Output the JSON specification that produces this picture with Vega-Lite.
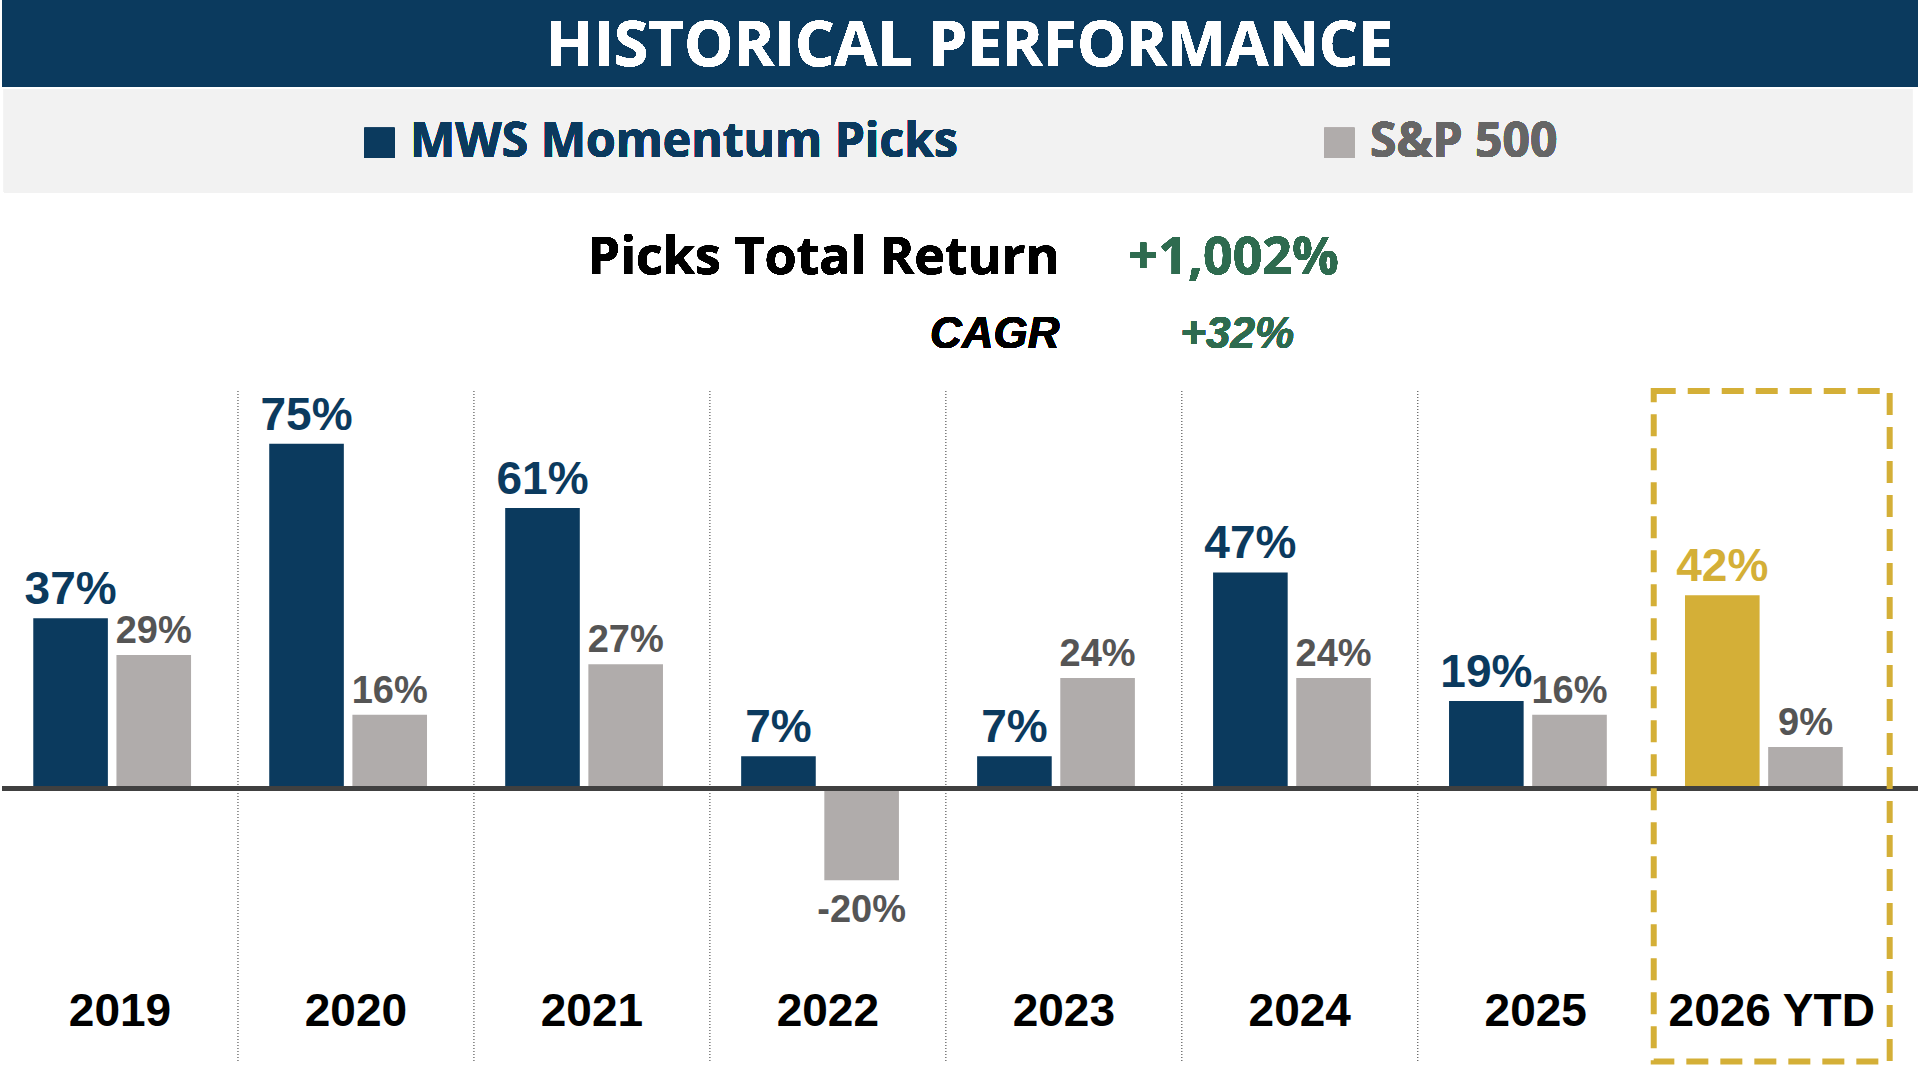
{
  "$schema": "https://vega.github.io/schema/vega-lite/v6.json",
  "width": 1920,
  "height": 1080,
  "autosize": {"type": "fit", "contains": "padding"},
  "padding": 0,
  "background": "white",
  "config": {"view": {"stroke": null}},
  "data": {"values": [
    {"year": "2019", "series": "MWS Momentum Picks", "value": 37, "label": "37%"},
    {"year": "2019", "series": "S&P 500", "value": 29, "label": "29%"},
    {"year": "2020", "series": "MWS Momentum Picks", "value": 75, "label": "75%"},
    {"year": "2020", "series": "S&P 500", "value": 16, "label": "16%"},
    {"year": "2021", "series": "MWS Momentum Picks", "value": 61, "label": "61%"},
    {"year": "2021", "series": "S&P 500", "value": 27, "label": "27%"},
    {"year": "2022", "series": "MWS Momentum Picks", "value": 7, "label": "7%"},
    {"year": "2022", "series": "S&P 500", "value": -20, "label": "-20%"},
    {"year": "2023", "series": "MWS Momentum Picks", "value": 7, "label": "7%"},
    {"year": "2023", "series": "S&P 500", "value": 24, "label": "24%"},
    {"year": "2024", "series": "MWS Momentum Picks", "value": 47, "label": "47%"},
    {"year": "2024", "series": "S&P 500", "value": 24, "label": "24%"},
    {"year": "2025", "series": "MWS Momentum Picks", "value": 19, "label": "19%"},
    {"year": "2025", "series": "S&P 500", "value": 16, "label": "16%"},
    {"year": "2026 YTD", "series": "MWS Momentum Picks", "value": 42, "label": "42%"},
    {"year": "2026 YTD", "series": "S&P 500", "value": 9, "label": "9%"}
  ]},
  "resolve": {"scale": {"x": "independent"}},
  "encoding": {
    "y": {"type": "quantitative", "scale": {"domain": [-63.5, 171.6], "nice": false, "zero": false}, "axis": null}
  },
  "layer": [
    {
      "mark": {"type": "rect", "fill": "#0b3a5e"},
      "encoding": {
        "x": {"datum": 0, "type": "quantitative", "scale": {"domain": [0, 1]}, "axis": null},
        "x2": {"datum": 1},
        "y": {"datum": 171.6, "type": "quantitative"},
        "y2": {"datum": 152.7}
      }
    },
    {
      "mark": {"type": "rect", "fill": "#f2f2f2"},
      "encoding": {
        "x": {"datum": 0.001, "type": "quantitative", "scale": {"domain": [0, 1]}, "axis": null},
        "x2": {"datum": 0.997},
        "y": {"datum": 152.2, "type": "quantitative"},
        "y2": {"datum": 129.7}
      }
    },
    {
      "mark": {"type": "text", "text": "HISTORICAL PERFORMANCE", "font": "Open Sans", "fontWeight": "bold", "fontSize": 62, "color": "white", "align": "center", "baseline": "middle"},
      "encoding": {
        "x": {"datum": 0.505, "type": "quantitative", "scale": {"domain": [0, 1]}, "axis": null},
        "y": {"datum": 161.3, "type": "quantitative"}
      }
    },
    {
      "mark": {"type": "square", "size": 900, "filled": true, "opacity": 1},
      "encoding": {
        "x": {"datum": 0.197, "type": "quantitative", "scale": {"domain": [0, 1]}, "axis": null},
        "y": {"datum": 140.5, "type": "quantitative"},
        "color": {"value": "#0b3a5e"}
      }
    },
    {
      "mark": {"type": "square", "size": 900, "filled": true, "opacity": 1},
      "encoding": {
        "x": {"datum": 0.698, "type": "quantitative", "scale": {"domain": [0, 1]}, "axis": null},
        "y": {"datum": 140.5, "type": "quantitative"},
        "color": {"value": "#b0acab"}
      }
    },
    {
      "mark": {"type": "text", "text": "MWS Momentum Picks", "font": "Open Sans", "fontWeight": "bold", "fontSize": 48, "color": "#0b3a5e", "align": "left", "baseline": "middle"},
      "encoding": {
        "x": {"datum": 0.213, "type": "quantitative", "scale": {"domain": [0, 1]}, "axis": null},
        "y": {"datum": 140.5, "type": "quantitative"}
      }
    },
    {
      "mark": {"type": "text", "text": "S&P 500", "font": "Open Sans", "fontWeight": "bold", "fontSize": 48, "color": "#666666", "align": "left", "baseline": "middle"},
      "encoding": {
        "x": {"datum": 0.714, "type": "quantitative", "scale": {"domain": [0, 1]}, "axis": null},
        "y": {"datum": 140.5, "type": "quantitative"}
      }
    },
    {
      "mark": {"type": "text", "text": "Picks Total Return", "font": "Open Sans", "fontWeight": "bold", "fontSize": 52, "color": "black", "align": "right", "baseline": "middle"},
      "encoding": {
        "x": {"datum": 0.552, "type": "quantitative", "scale": {"domain": [0, 1]}, "axis": null},
        "y": {"datum": 115.4, "type": "quantitative"}
      }
    },
    {
      "mark": {"type": "text", "text": "+1,002%", "font": "Open Sans", "fontWeight": "bold", "fontSize": 52, "color": "#2e6b4f", "align": "left", "baseline": "middle"},
      "encoding": {
        "x": {"datum": 0.588, "type": "quantitative", "scale": {"domain": [0, 1]}, "axis": null},
        "y": {"datum": 115.4, "type": "quantitative"}
      }
    },
    {
      "mark": {"type": "text", "text": "CAGR", "font": "Liberation Sans", "fontWeight": "bold", "fontStyle": "italic", "fontSize": 44, "color": "black", "align": "right", "baseline": "middle"},
      "encoding": {
        "x": {"datum": 0.552, "type": "quantitative", "scale": {"domain": [0, 1]}, "axis": null},
        "y": {"datum": 98.6, "type": "quantitative"}
      }
    },
    {
      "mark": {"type": "text", "text": "+32%", "font": "Liberation Sans", "fontWeight": "bold", "fontStyle": "italic", "fontSize": 44, "color": "#2e6b4f", "align": "left", "baseline": "middle"},
      "encoding": {
        "x": {"datum": 0.615, "type": "quantitative", "scale": {"domain": [0, 1]}, "axis": null},
        "y": {"datum": 98.6, "type": "quantitative"}
      }
    },
    {
      "transform": [{"filter": "datum.series == 'S&P 500' && datum.year != '2019' && datum.year != '2026 YTD'"}],
      "mark": {"type": "rule", "color": "#555555", "strokeWidth": 1.2, "strokeDash": [1, 2]},
      "encoding": {
        "x": {"field": "year", "type": "nominal", "bandPosition": 0, "scale": {"type": "band", "domain": ["2019", "2020", "2021", "2022", "2023", "2024", "2025", "2026 YTD"], "paddingInner": 0, "paddingOuter": 0.06, "align": 0}, "axis": null},
        "y": {"datum": 86.5, "type": "quantitative"},
        "y2": {"datum": -59.5}
      }
    },
    {
      "mark": {"type": "bar", "opacity": 1},
      "encoding": {
        "x": {"field": "year", "type": "nominal", "scale": {"type": "band", "domain": ["2019", "2020", "2021", "2022", "2023", "2024", "2025", "2026 YTD"], "paddingInner": 0, "paddingOuter": 0.06, "align": 0}, "axis": null},
        "xOffset": {"field": "series", "type": "nominal", "scale": {"domain": ["MWS Momentum Picks", "S&P 500"], "paddingInner": 0.103, "paddingOuter": 0.47, "align": 0.4}},
        "y": {"field": "value", "type": "quantitative"},
        "y2": {"datum": 0},
        "color": {
          "condition": {"test": "datum.year == '2026 YTD' && datum.series == 'MWS Momentum Picks'", "value": "#d4af37"},
          "field": "series", "type": "nominal",
          "scale": {"domain": ["MWS Momentum Picks", "S&P 500"], "range": ["#0b3a5e", "#b0acab"]},
          "legend": null
        }
      }
    },
    {
      "mark": {"type": "rule", "color": "#404040", "strokeWidth": 4},
      "encoding": {"y": {"datum": 0, "type": "quantitative"}}
    },
    {
      "transform": [{"filter": "datum.value >= 0"}],
      "mark": {"type": "text", "font": "Liberation Sans", "fontWeight": "bold", "baseline": "bottom", "dy": -4},
      "encoding": {
        "x": {"field": "year", "type": "nominal", "scale": {"type": "band", "domain": ["2019", "2020", "2021", "2022", "2023", "2024", "2025", "2026 YTD"], "paddingInner": 0, "paddingOuter": 0.06, "align": 0}, "axis": null},
        "xOffset": {"field": "series", "type": "nominal", "scale": {"type": "band", "domain": ["MWS Momentum Picks", "S&P 500"], "paddingInner": 0.103, "paddingOuter": 0.47, "align": 0.4}},
        "y": {"field": "value", "type": "quantitative"},
        "text": {"field": "label"},
        "size": {"condition": {"test": "datum.series == 'MWS Momentum Picks'", "value": 46}, "value": 38},
        "color": {
          "condition": [
            {"test": "datum.year == '2026 YTD' && datum.series == 'MWS Momentum Picks'", "value": "#d4af37"},
            {"test": "datum.series == 'MWS Momentum Picks'", "value": "#0b3a5e"}
          ],
          "value": "#555555"
        }
      }
    },
    {
      "transform": [{"filter": "datum.value < 0"}],
      "mark": {"type": "text", "font": "Liberation Sans", "fontWeight": "bold", "baseline": "top", "dy": 12, "fontSize": 38, "color": "#555555"},
      "encoding": {
        "x": {"field": "year", "type": "nominal", "scale": {"type": "band", "domain": ["2019", "2020", "2021", "2022", "2023", "2024", "2025", "2026 YTD"], "paddingInner": 0, "paddingOuter": 0.06, "align": 0}, "axis": null},
        "xOffset": {"field": "series", "type": "nominal", "scale": {"type": "band", "domain": ["MWS Momentum Picks", "S&P 500"], "paddingInner": 0.103, "paddingOuter": 0.47, "align": 0.4}},
        "y": {"field": "value", "type": "quantitative"},
        "text": {"field": "label"}
      }
    },
    {
      "transform": [{"filter": "datum.series == 'S&P 500'"}],
      "mark": {"type": "text", "font": "Liberation Sans", "fontWeight": "bold", "fontSize": 46, "color": "black", "baseline": "middle", "align": "center"},
      "encoding": {
        "x": {"field": "year", "type": "nominal", "bandPosition": 0.5, "scale": {"type": "band", "domain": ["2019", "2020", "2021", "2022", "2023", "2024", "2025", "2026 YTD"], "paddingInner": 0, "paddingOuter": 0.06, "align": 0}, "axis": null},
        "y": {"datum": -48.6, "type": "quantitative"},
        "text": {"field": "year"}
      }
    },
    {
      "transform": [{"filter": "datum.series == 'S&P 500' && datum.year == '2026 YTD'"}],
      "mark": {"type": "rect", "filled": false, "stroke": "#d4af37", "strokeWidth": 6, "strokeDash": [22, 12], "fill": null},
      "encoding": {
        "x": {"field": "year", "type": "nominal", "bandPosition": 0, "scale": {"type": "band", "domain": ["2019", "2020", "2021", "2022", "2023", "2024", "2025", "2026 YTD"], "paddingInner": 0, "paddingOuter": 0.06, "align": 0}, "axis": null},
        "x2": {"field": "year", "bandPosition": 1},
        "y": {"datum": 86.5, "type": "quantitative"},
        "y2": {"datum": -59.5}
      }
    }
  ]
}
